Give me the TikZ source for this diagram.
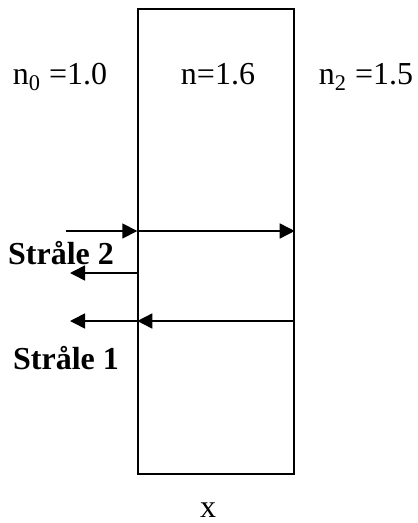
\documentclass[tikz,border=0pt]{standalone}
\usepackage{fontspec}
\setmainfont{Liberation Serif}
\usetikzlibrary{arrows.meta,positioning}

\begin{document}
\begin{tikzpicture}[
  x=0.5pt, y=-0.5pt,
  slab/.style={draw, line width=0.7pt, rectangle, minimum width=78pt, minimum height=232.5pt, inner sep=0pt},
  lbl/.style={font=\fontsize{16}{19}\selectfont, inner sep=0pt, anchor=base},
  ray/.style={line width=0.8pt, -{Triangle[length=7.5pt,width=7.5pt]}},
  lbl2/.style={font=\fontsize{16}{19}\selectfont\bfseries, inner sep=0pt}
]
\useasboundingbox (0,0) rectangle (417,523);

\node[slab] (film) at (216,241.5) {};

\node[lbl] (n0) at (60,85) {n\textsubscript{0} =1.0};
\node[lbl] (n1) at (218,85) {n=1.6};
\node[lbl] (n2) at (366,85) {n\textsubscript{2} =1.5};
\node[lbl] (xlbl) at (208,517) {x};

\node[lbl2] (s2) at (61,253) {Stråle 2};
\node[lbl2] (s1) at (66,358) {Stråle 1};

\coordinate (in2) at (66,231);
\coordinate (f2) at (film.west |- in2);
\coordinate (b2) at (film.east |- in2);
\coordinate (r2a) at (138,273);
\coordinate (r2b) at (70,273);
\coordinate (b1) at (294,321);
\coordinate (f1) at (film.west |- b1);
\coordinate (o1) at (70,321);

\draw[ray] (in2) -- (f2);
\draw[ray] (f2) -- (b2);
\draw[ray] (film.west |- r2a) -- (r2b);
\draw[ray] (b1) -- (f1);
\draw[ray] (f1) -- (o1);

\end{tikzpicture}
\end{document}
